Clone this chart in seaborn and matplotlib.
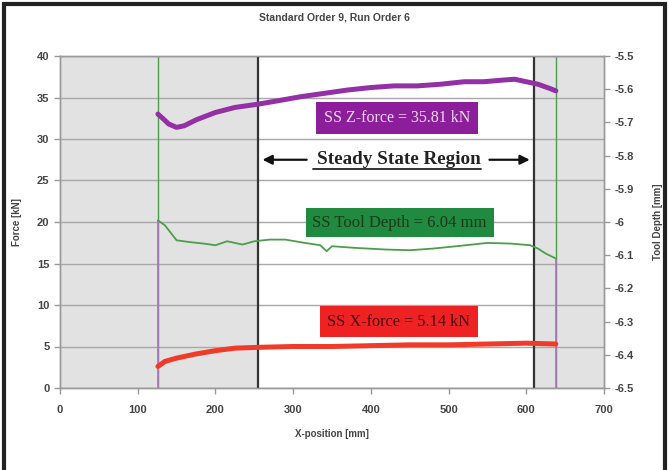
import matplotlib
matplotlib.use("Agg")
import matplotlib.pyplot as plt
from matplotlib.patches import Rectangle
import seaborn as sns
import pandas as pd

# ---------------- data ----------------
z_x = [126, 132, 140, 150, 160, 175, 200, 225, 255, 280, 310, 340, 370, 400, 430,
       460, 490, 520, 545, 570, 585, 600, 615, 630, 638]
z_force = [33.0, 32.5, 31.8, 31.4, 31.6, 32.3, 33.2, 33.8, 34.2, 34.6, 35.1, 35.5, 35.9,
           36.2, 36.4, 36.4, 36.6, 36.9, 36.9, 37.1, 37.2, 36.9, 36.6, 36.1, 35.8]

d_x = [126, 135, 150, 165, 185, 200, 215, 235, 250, 270, 290, 315, 335, 343, 350, 380,
       420, 450, 480, 510, 550, 580, 605, 615, 625, 638]
tool_depth = [-5.995, -6.010, -6.055, -6.060, -6.065, -6.070, -6.058, -6.068, -6.058,
              -6.053, -6.053, -6.063, -6.070, -6.088, -6.073, -6.078, -6.083, -6.085,
              -6.080, -6.073, -6.063, -6.065, -6.070, -6.080, -6.095, -6.110]

x_x = [126, 135, 150, 175, 200, 225, 255, 300, 350, 400, 450, 500, 550, 600, 638]
x_force = [2.6, 3.2, 3.6, 4.1, 4.5, 4.8, 4.9, 5.0, 5.0, 5.1, 5.2, 5.2, 5.3, 5.4, 5.3]

steady_start, steady_end = 255, 610
force_ticks = [0, 5, 10, 15, 20, 25, 30, 35, 40]
depth_ticks = [-6.5, -6.4, -6.3, -6.2, -6.1, -6.0, -5.9, -5.8, -5.7, -5.6, -5.5]
depth_labels = ["-6.5", "-6.4", "-6.3", "-6.2", "-6.1", "-6", "-5.9", "-5.8", "-5.7", "-5.6", "-5.5"]
x_ticks = [0, 100, 200, 300, 400, 500, 600, 700]

title = "Standard Order 9, Run Order 6"
z_label = "SS Z-force = 35.81 kN"
d_label = "SS Tool Depth = 6.04 mm"
xf_label = "SS X-force = 5.14 kN"

# ---------------- style ----------------
sns.set_style("white")
plt.rcParams["font.family"] = ["Liberation Sans", "DejaVu Sans"]

PURPLE = "#9330a6"
GREEN = "#4c9e4c"
RED = "#f03a2a"
SHADE = "#e2e2e2"
GRID = "#a8a8a8"

fig = plt.figure(figsize=(6.69, 4.70), dpi=100)
ax = fig.add_axes([60 / 669, 1 - 388 / 470, 544 / 669, 332 / 470])
ax2 = ax.twinx()

ax.set_xlim(0, 700)
ax.set_ylim(0, 40)
ax2.set_ylim(-6.5, -5.5)

# shaded (non steady state) regions
ax.axvspan(0, steady_start, color=SHADE, zorder=0, lw=0)
ax.axvspan(steady_end, 700, color=SHADE, zorder=0, lw=0)

# grid
for t in force_ticks:
    ax.axhline(t, color=GRID, lw=1.0, zorder=1)

# start / end markers
ax.vlines([z_x[0]], 0, 40, color=GREEN, lw=1.0, zorder=2)
ax.vlines([z_x[0]], 0, (tool_depth[0] + 6.5) * 40, color="#b070c8", lw=1.2, zorder=3)
ax.vlines([z_x[-1]], 0, 40, color=GREEN, lw=1.0, zorder=2)
ax.vlines([z_x[-1]], 0, (tool_depth[-1] + 6.5) * 40, color="#b070c8", lw=1.2, zorder=3)

# steady state boundaries
ax.axvline(steady_start, color="#333333", lw=1.6, zorder=4)
ax.axvline(steady_end, color="#333333", lw=1.6, zorder=4)

# series
sns.lineplot(data=pd.DataFrame({"x": z_x, "y": z_force}), x="x", y="y", ax=ax,
             color=PURPLE, lw=3.6, zorder=5)
sns.lineplot(data=pd.DataFrame({"x": x_x, "y": x_force}), x="x", y="y", ax=ax,
             color=RED, lw=3.6, zorder=5)
sns.lineplot(data=pd.DataFrame({"x": d_x, "y": tool_depth}), x="x", y="y", ax=ax2,
             color=GREEN, lw=1.3, zorder=5)

# axes appearance
ax.set_xticks(x_ticks)
ax.set_yticks(force_ticks)
ax2.set_yticks(depth_ticks)
ax2.set_yticklabels(depth_labels)
for a in (ax, ax2):
    for s in a.spines.values():
        s.set_color("#999999")
        s.set_linewidth(1.0)
    a.tick_params(colors="#999999", length=4, width=1.0, labelcolor="#444444",
                  labelsize=8)
ax.tick_params(axis="both", direction="out", left=True, bottom=True)
ax.tick_params(axis="x", pad=8)
ax2.tick_params(axis="y", direction="out", right=True)
for lab in ax.get_xticklabels() + ax.get_yticklabels() + ax2.get_yticklabels():
    lab.set_fontweight("bold")

ax.set_xlabel("X-position [mm]", fontsize=7, fontweight="bold", color="#444444", labelpad=10)
ax.set_ylabel("Force [kN]", fontsize=7, fontweight="bold", color="#444444", labelpad=11)
ax2.set_ylabel("Tool Depth [mm]", fontsize=7, fontweight="bold", color="#444444", labelpad=14)
fig.text(0.5, 1 - 18 / 470, title, ha="center", va="center", fontsize=7.5,
         fontweight="bold", color="#444444")

ax2.patch.set_visible(False)

# annotation boxes
serif = ["Liberation Serif", "DejaVu Serif"]
ax2.text(434, -6.5 + 32.5 / 40, z_label, ha="center", va="center",
         fontsize=11.5, family=serif, color="#f0d8f0", zorder=10,
         bbox=dict(boxstyle="square,pad=0.5", fc="#8c1e9c", ec="none"))
ax2.text(437, -6.5 + 19.9 / 40, d_label, ha="center", va="center", fontsize=12,
         family=serif, color="#1a3a1a", zorder=10,
         bbox=dict(boxstyle="square,pad=0.4", fc="#1f8a40", ec="none"))
ax2.text(436, -6.5 + 8.0 / 40, xf_label, ha="center", va="center", fontsize=11.7,
         family=serif, color="#4a0a0a", zorder=10,
         bbox=dict(boxstyle="square,pad=0.45", fc="#ee2222", ec="none"))

# steady state region label with arrows
ssy = -6.5 + 27.5 / 40
ax2.text(436, ssy, "Steady State Region", ha="center", va="center", fontsize=13.8,
         family=serif, fontweight="bold", color="#222222", zorder=10)
ax2.plot([326, 542], [ssy - 0.027, ssy - 0.027], color="#222222", lw=1.3, zorder=10)
ax2.annotate("", xy=(steady_start + 2, ssy), xytext=(321, ssy),
             arrowprops=dict(arrowstyle="-|>", color="#111111", lw=1.6,
                             mutation_scale=14), zorder=10)
ax2.annotate("", xy=(steady_end - 2, ssy), xytext=(549, ssy),
             arrowprops=dict(arrowstyle="-|>", color="#111111", lw=1.6,
                             mutation_scale=14), zorder=10)

# outer frame
fig.patches.append(Rectangle((4 / 669, -0.1), 661 / 669, 1.1 - 4 / 470,
                             transform=fig.transFigure, fill=False, ec="#222222",
                             lw=3))

fig.savefig("out.png", dpi=100)
